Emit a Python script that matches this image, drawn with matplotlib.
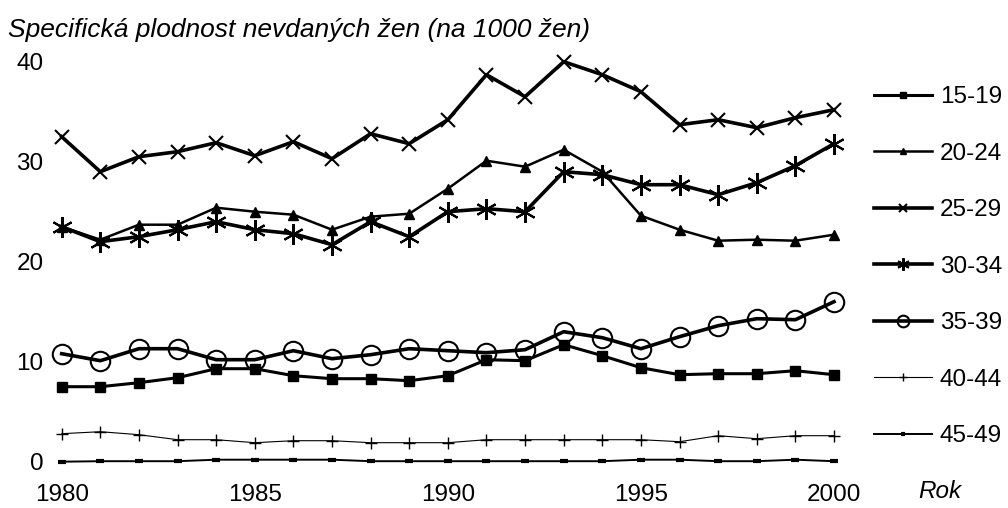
import matplotlib
matplotlib.use("Agg")
import matplotlib.pyplot as plt

plt.rcParams["font.family"] = ["Liberation Sans", "DejaVu Sans"]

years = list(range(1980, 2001))

# specificka plodnost nevdanych zen podle veku (na 1000 zen)
age_15_19 = [7.5, 7.5, 7.9, 8.4, 9.3, 9.3, 8.6, 8.3, 8.3, 8.1, 8.6,
             10.2, 10.1, 11.7, 10.6, 9.4, 8.7, 8.8, 8.8, 9.1, 8.7]
age_20_24 = [23.5, 22.2, 23.7, 23.7, 25.4, 25.0, 24.7, 23.2, 24.5, 24.8, 27.3,
             30.1, 29.5, 31.2, 29.0, 24.6, 23.2, 22.1, 22.2, 22.1, 22.7]
age_25_29 = [32.5, 29.0, 30.5, 31.0, 31.9, 30.6, 32.0, 30.3, 32.8, 31.8, 34.2,
             38.7, 36.5, 40.0, 38.7, 37.0, 33.7, 34.2, 33.4, 34.4, 35.2]
age_30_34 = [23.5, 22.0, 22.5, 23.2, 24.0, 23.2, 22.8, 21.7, 24.0, 22.5, 25.0,
             25.3, 25.0, 29.0, 28.7, 27.7, 27.7, 26.7, 27.9, 29.6, 31.8]
age_35_39 = [10.8, 10.1, 11.3, 11.3, 10.2, 10.2, 11.1, 10.3, 10.7, 11.3, 11.1,
             10.9, 11.2, 13.0, 12.4, 11.3, 12.5, 13.6, 14.3, 14.2, 16.0]
age_40_44 = [2.8, 3.0, 2.7, 2.2, 2.2, 1.9, 2.1, 2.1, 1.9, 1.9, 1.9,
             2.2, 2.2, 2.2, 2.2, 2.2, 2.0, 2.6, 2.3, 2.6, 2.6]
age_45_49 = [0.0, 0.05, 0.05, 0.05, 0.2, 0.2, 0.2, 0.2, 0.05, 0.05, 0.05,
             0.05, 0.05, 0.05, 0.05, 0.2, 0.2, 0.05, 0.05, 0.2, 0.05]

labels = ["15-19", "20-24", "25-29", "30-34", "35-39", "40-44", "45-49"]

fig = plt.figure(figsize=(10.08, 5.08), dpi=100)
ax = fig.add_axes([61.7 / 1008, 46.3 / 508, (834 - 61.7) / 1008, 400 / 508])

k = dict(color="black", clip_on=False)
ax.plot(years, age_15_19, marker="s", ms=7, lw=2.2, label=labels[0], **k)
ax.plot(years, age_20_24, marker="^", ms=7, lw=1.8, label=labels[1], **k)
ax.plot(years, age_25_29, marker="x", ms=10, mew=1.5, lw=2.6, label=labels[2], **k)
ax.plot(years, age_30_34, marker=(6, 2, 0), ms=15, mew=1.5, lw=2.6, label=labels[3], **k)
ax.plot(years, age_35_39, marker="o", ms=14, mew=1.5, fillstyle="none", lw=2.6, label=labels[4], **k)
ax.plot(years, age_40_44, marker="+", ms=9, mew=1.0, lw=0.8, label=labels[5], **k)
ax.plot(years, age_45_49, marker="_", ms=6, mew=3, lw=1.4, label=labels[6], **k)

ax.set_xlim(1980, 2000)
ax.set_ylim(0, 40)
ax.set_xticks([1980, 1985, 1990, 1995, 2000])
ax.set_yticks([0, 10, 20, 30, 40])
ax.tick_params(length=0, labelsize=17.5)
ax.tick_params(axis="y", pad=13)
ax.tick_params(axis="x", pad=16)
for s in ax.spines.values():
    s.set_visible(False)

fig.text(8 / 1008, 1 - 37 / 508, "Specifická plodnost nevdaných žen (na 1000 žen)",
         fontsize=19, style="italic", va="baseline", ha="left")
fig.text(918 / 1008, 1 - 492 / 508, "Rok", fontsize=17.5, style="italic",
         va="center", ha="left")

fig.legend(loc="upper left", bbox_to_anchor=(874 / 1008, 1 - 86 / 508),
           frameon=False, fontsize=17.5, numpoints=1, markerscale=0.6,
           handlelength=2.4, handletextpad=0.3, labelspacing=1.42,
           borderpad=0, borderaxespad=0)

fig.savefig("out.png", dpi=100)
